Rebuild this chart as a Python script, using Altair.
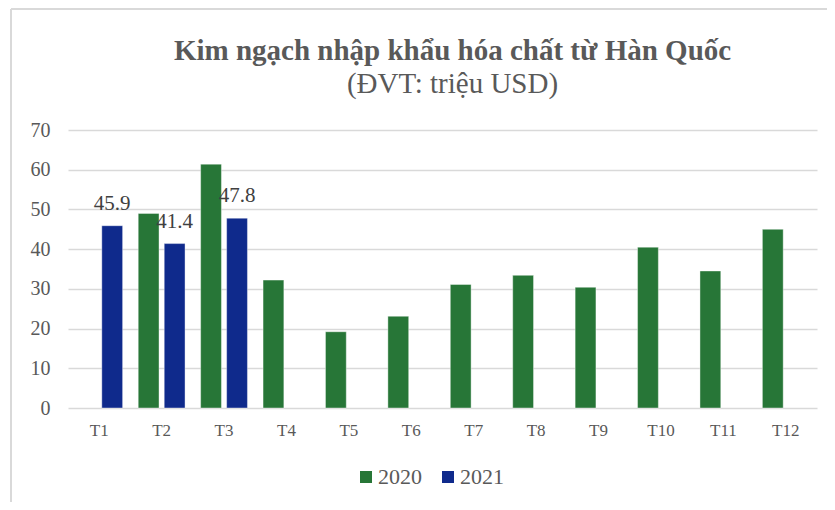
import altair as alt
import pandas as pd

months = ["T1", "T2", "T3", "T4", "T5", "T6", "T7", "T8", "T9", "T10", "T11", "T12"]
years = ["2020", "2021"]
v2020 = [None, 49.0, 61.4, 32.2, 19.2, 23.1, 31.1, 33.4, 30.4, 40.5, 34.5, 45.0]
v2021 = [45.9, 41.4, 47.8, None, None, None, None, None, None, None, None, None]
y_ticks = [0, 10, 20, 30, 40, 50, 60, 70]
title_text = "Kim ngạch nhập khẩu hóa chất từ Hàn Quốc"
subtitle_text = "(ĐVT: triệu USD)"

rows = []
for m, a, b in zip(months, v2020, v2021):
    if a is not None:
        rows.append({"month": m, "year": "2020", "value": a, "label": ""})
    if b is not None:
        rows.append({"month": m, "year": "2021", "value": b, "label": f"{b:.1f}"})
df = pd.DataFrame(rows)

GREEN = "#277637"
BLUE = "#0F2A8C"
TEXT = "#595959"
FONT = "Liberation Serif"
W, H = 749, 278

x_enc = alt.X(
    "month:N",
    sort=months,
    scale=alt.Scale(paddingInner=0.25, paddingOuter=0.125),
    axis=alt.Axis(
        title=None, labelAngle=0, domain=False, ticks=False, grid=False,
        labelPadding=14, labelFontSize=17, labelColor=TEXT, labelFont=FONT,
    ),
)
xoff_enc = alt.XOffset("year:N", sort=years,
                       scale=alt.Scale(domain=years, paddingInner=0.2, paddingOuter=0))
y_enc = alt.Y(
    "value:Q",
    scale=alt.Scale(domain=[0, 70], nice=False),
    axis=alt.Axis(
        title=None, values=y_ticks, tickCount=8, domain=False, ticks=False,
        labelOverlap=False, labelPadding=18, labelFontSize=20,
        labelColor=TEXT, labelFont=FONT, gridColor="#d9d9d9", gridWidth=1.5,
    ),
)

base = alt.Chart(df).encode(x=x_enc, xOffset=xoff_enc, y=y_enc)

bars = base.mark_bar(stroke="white", strokeWidth=0.8, strokeOpacity=0.5).encode(
    color=alt.Color(
        "year:N",
        scale=alt.Scale(domain=years, range=[GREEN, BLUE]),
        legend=alt.Legend(
            title=None, orient="none", direction="horizontal",
            legendX=287, legendY=336,
            symbolType="square", symbolSize=144, symbolStrokeWidth=0,
            labelFontSize=22, labelFont=FONT, labelColor=TEXT,
            labelOffset=1, columnPadding=15,
        ),
    ),
)

labels = base.transform_filter(alt.datum.label != "").mark_text(
    baseline="alphabetic", dy=-16, fontSize=21, font=FONT, color="#404040"
).encode(text="label:N")

frame_df = pd.DataFrame({"t": [title_text], "s": [subtitle_text]})
top_line = alt.Chart(frame_df).mark_rule(color="#d9d9d9", strokeWidth=2).encode(
    x=alt.value(-57), x2=alt.value(W + 12), y=alt.value(-121)
)
left_line = alt.Chart(frame_df).mark_rule(color="#d9d9d9", strokeWidth=2).encode(
    x=alt.value(-57), y=alt.value(-121), y2=alt.value(H + 100)
)
title_mark = alt.Chart(frame_df).mark_text(
    font=FONT, fontSize=29, fontWeight="bold", color=TEXT,
    align="center", baseline="alphabetic",
).encode(x=alt.value(W / 2 + 10), y=alt.value(-70), text="t:N")
subtitle_mark = alt.Chart(frame_df).mark_text(
    font=FONT, fontSize=29, color=TEXT, align="center", baseline="alphabetic",
).encode(x=alt.value(W / 2 + 10), y=alt.value(-37), text="s:N")

chart = alt.layer(bars, labels, top_line, left_line, title_mark, subtitle_mark).properties(
    width=W,
    height=H,
    background="white",
    autosize=alt.AutoSizeParams(type="none"),
    padding={"left": 60, "top": 122, "right": 10, "bottom": 94},
).configure_view(strokeWidth=0, stroke="transparent")

chart.save("out.html", embed_options={"renderer": "svg", "actions": False})
